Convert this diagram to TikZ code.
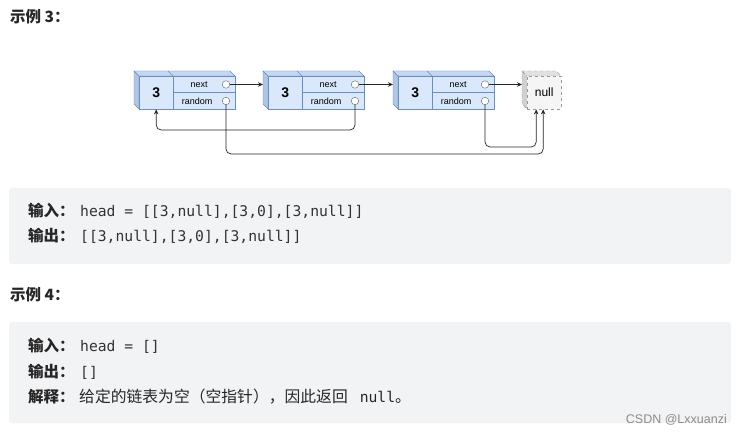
\documentclass[tikz,border=0pt]{standalone}
\usepackage{fontspec}
\setmainfont{Liberation Sans}
\setmonofont{DejaVu Sans Mono}
\newfontfamily\cjk{Noto Sans CJK SC}
\usetikzlibrary{arrows.meta}
\definecolor{boxbg}{HTML}{F2F3F5}
\definecolor{txt}{HTML}{262626}
\definecolor{code}{HTML}{333333}
\definecolor{nfill}{HTML}{DAE8FC}
\definecolor{nstroke}{HTML}{6C8EBF}
\definecolor{ntop}{HTML}{C6D8F1}
\definecolor{nleft}{HTML}{AFC6E6}
\definecolor{gfill}{HTML}{F5F5F5}
\definecolor{gstroke}{HTML}{999999}
\tikzset{
  valbox/.style={draw=nstroke, fill=nfill, minimum width=34pt, minimum height=33pt, inner sep=0pt, anchor=north west, font=\fontsize{14}{14}\selectfont\bfseries},
  fieldbox/.style={draw=nstroke, fill=nfill, minimum width=62pt, minimum height=16.5pt, inner sep=0pt, anchor=north west},
  lbl/.style={inner sep=0pt, font=\fontsize{9}{9}\selectfont},
  dot/.style={circle, draw=black!60, fill=white, minimum size=7.5pt, inner sep=0pt},
  arr/.style={draw=black!85, line width=0.7pt, -{Stealth[length=5pt,width=4.5pt]}, rounded corners=5pt},
  sidel/.style={fill=nleft, draw=nstroke},
  sidet/.style={fill=ntop, draw=nstroke},
  nullbox/.style={draw=gstroke, dashed, fill=gfill, minimum width=34pt, minimum height=33pt, inner sep=0pt, anchor=north west, font=\fontsize{12}{12}\selectfont},
  head/.style={inner sep=0pt, anchor=base west, text=txt, font=\cjk\bfseries\fontsize{15.5}{16}\selectfont},
  lab/.style={inner sep=0pt, anchor=base west, text=txt, font=\cjk\bfseries\fontsize{15.5}{16}\selectfont},
  cd/.style={inner sep=0pt, anchor=base west, text=code, font=\ttfamily\fontsize{14.7}{16}\selectfont},
}
\begin{document}
\begin{tikzpicture}[x=1pt,y=-1pt]
\useasboundingbox[fill=white] (0,0) rectangle (742,433);

\node[head] (h3) at (10,23) {示例 3：};

% list nodes
\foreach \i/\X in {1/139,2/268,3/398}{
  \filldraw[sidel] (\X-5,71) -- (\X,76) -- (\X,109) -- (\X-5,104) -- cycle;
  \filldraw[sidet] (\X-5,71) -- (\X+91,71) -- (\X+96,76) -- (\X,76) -- cycle;
  \draw[nstroke] (\X+29,71) -- (\X+34,76);
  \node[valbox] (v\i) at (\X,76) {3};
  \node[fieldbox] (n\i) at (\X+34,76) {};
  \node[fieldbox] (r\i) at (\X+34,92.5) {};
  \node[lbl] (nl\i) at ([xshift=-5pt]n\i.center) {next};
  \node[lbl] (rl\i) at ([xshift=-7pt]r\i.center) {random};
  \node[dot] (cn\i) at (\X+87,84.5) {};
  \node[dot] (cr\i) at (\X+87,101) {};
  \coordinate (L\i) at (\X-5,84.5);
}
% null box
\filldraw[fill=gfill!85!black, draw=gstroke, dashed] (522,71) -- (527,76) -- (527,109) -- (522,104) -- cycle;
\filldraw[fill=gfill!92!black, draw=gstroke, dashed] (522,71) -- (556,71) -- (561,76) -- (527,76) -- cycle;
\node[nullbox] (nul) at (527,76) {null};
\coordinate (Lnul) at (522,84.5);

% next pointers
\draw[arr] (cn1) -- (L2);
\draw[arr] (cn2) -- (L3);
\draw[arr] (cn3) -- (Lnul);
% random pointers
\draw[arr] (cr1) -- ++(0,53) -| ([xshift=-1pt]nul.south);
\draw[arr] (cr2) -- ++(0,29) -| (v1.south);
\draw[arr] (cr3) -- ++(0,46) -| ([xshift=-8pt]nul.south);

% example 3 box
\fill[boxbg, rounded corners=3pt] (9,188) rectangle (731,264);
\node[lab] (in3) at (28,216) {输入：};
\node[cd] (in3c) at (80,216) {head = [[3,null],[3,0],[3,null]]};
\node[lab] (out3) at (28,241) {输出：};
\node[cd] (out3c) at (80,241) {[[3,null],[3,0],[3,null]]};

\node[head] (h4) at (10,300) {示例 4：};

% example 4 box
\fill[boxbg, rounded corners=3pt] (9,322) rectangle (731,423);
\node[lab] (in4) at (28,351) {输入：};
\node[cd] (in4c) at (80,351) {head = []};
\node[lab] (out4) at (28,377) {输出：};
\node[cd] (out4c) at (80,377) {[]};
\node[lab] (ex4) at (28,402) {解释：};
\node[inner sep=0pt, anchor=base west, text=txt] (ex4t) at (79,402) {{\cjk\fontsize{15.8}{16}\selectfont 给定的链表为空（空指针），因此返回}\hspace{12pt}{\ttfamily\fontsize{14.7}{16}\selectfont null}{\cjk\fontsize{15.8}{16}\selectfont 。}};

\node[inner sep=0pt, anchor=base east, text=black!45, font=\fontsize{12.5}{13}\selectfont] (csdn) at (727,423) {CSDN @Lxxuanzi};
\end{tikzpicture}
\end{document}
